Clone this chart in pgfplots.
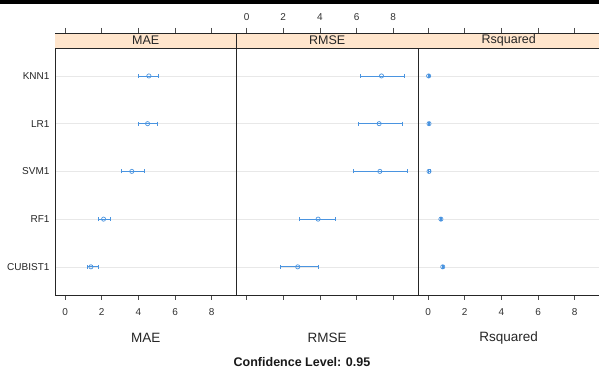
\documentclass[border=0pt]{standalone}
\usepackage{fontspec}
\setmainfont{Liberation Sans}
\usepackage{pgfplots}
\pgfplotsset{compat=1.18}
\definecolor{stripcol}{HTML}{FFE5CC}
\definecolor{barcol}{HTML}{4A94E0}
\definecolor{gridcol}{HTML}{E8E8E8}
\pgfplotsset{
  panel/.style={
    anchor=south west,
    scale only axis,
    width=181.5pt, height=262pt,
    xmin=-0.55, xmax=9.35, ymin=0.41, ymax=5.90,
    xtick={0,2,4,6,8},
    ytick={1,2,3,4,5},
    yticklabels={},
    tick align=outside,
    xtick pos=both,
    major tick length=5pt,
    ytick style={draw=none},
    xtick style={color=black!70, line width=0.6pt},
    ymajorgrids,
    grid style={gridcol, line width=0.6pt},
    axis line style={black!85, line width=0.8pt},
    /pgf/number format/assume math mode=true,
    tick label style={font=\fontsize{10}{12}\selectfont, color=black!80},
    xlabel style={font=\fontsize{13.5}{15}\selectfont, color=black!85, at={(0.5,-0.164)}, anchor=center},
    clip=false,
  },
  ebar/.style={
    only marks, color=barcol, mark=o, mark size=2.1pt,
    mark options={line width=0.7pt},
    error bars/.cd, x dir=both, x explicit,
    error bar style={line width=0.8pt, color=barcol},
    error mark options={rotate=90, mark size=2pt, line width=0.6pt, color=barcol},
  },
}
\newcommand{\strip}[1]{%
  \fill[stripcol] (rel axis cs:0,1) rectangle ([yshift=-15pt]rel axis cs:1,1);
  \draw[black!85, line width=0.8pt] ([yshift=-15pt]rel axis cs:0,1) -- ([yshift=-15pt]rel axis cs:1,1);
  \draw[black!85, line width=0.8pt] (rel axis cs:0,1) -- (rel axis cs:1,1);
  \node[font=\fontsize{12.5}{14}\selectfont, color=black!85] at ([yshift=-7.5pt]rel axis cs:0.5,1) {#1};
}
\begin{document}
\begin{tikzpicture}
\clip (0pt,0pt) rectangle (599pt,374pt);
\fill[white] (0pt,0pt) rectangle (599pt,374pt);
\fill[black] (0pt,370pt) rectangle (599pt,374pt);
% MAE
\begin{axis}[panel, at={(55pt,79pt)},
  xticklabel pos=lower,
  xticklabel style={yshift=-5pt},
  yticklabels={CUBIST1,RF1,SVM1,LR1,KNN1},
  yticklabel style={font=\fontsize{10}{12}\selectfont, color=black!85, xshift=3pt},
  xlabel={MAE}]
\strip{MAE}
\addplot+[ebar] coordinates {
  (4.57,5) -= (0.57,0) += (0.53,0)
  (4.50,4) -= (0.50,0) += (0.55,0)
  (3.64,3) -= (0.60,0) += (0.66,0)
  (2.10,2) -= (0.30,0) += (0.35,0)
  (1.41,1) -= (0.21,0) += (0.39,0)
};
\end{axis}
% RMSE
\begin{axis}[panel, at={(236.5pt,79pt)},
  xticklabel pos=upper,
  xticklabel style={yshift=4pt},
  xlabel={RMSE}]
\strip{RMSE}
\addplot+[ebar] coordinates {
  (7.36,5) -= (1.16,0) += (1.24,0)
  (7.23,4) -= (1.16,0) += (1.26,0)
  (7.27,3) -= (1.44,0) += (1.51,0)
  (3.90,2) -= (1.00,0) += (0.96,0)
  (2.79,1) -= (0.93,0) += (1.14,0)
};
\end{axis}
% Rsquared
\begin{axis}[panel, at={(418pt,79pt)},
  xticklabel pos=lower,
  xticklabel style={yshift=-5pt},
  xlabel={Rsquared}]
\strip{Rsquared}
\addplot+[ebar] coordinates {
  (0.03,5) -= (0.04,0) += (0.04,0)
  (0.05,4) -= (0.04,0) += (0.04,0)
  (0.05,3) -= (0.05,0) += (0.05,0)
  (0.70,2) -= (0.04,0) += (0.04,0)
  (0.80,1) -= (0.04,0) += (0.04,0)
};
\end{axis}
\node[font=\bfseries\fontsize{12.5}{14}\selectfont, color=black!90] at (302pt,12pt) {Confidence Level: 0.95};
\end{tikzpicture}
\end{document}
